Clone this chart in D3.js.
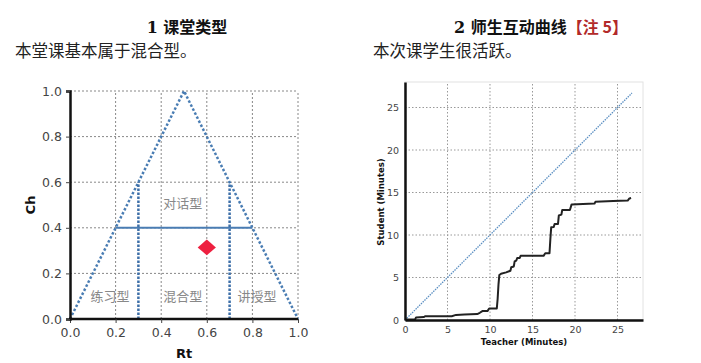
<!DOCTYPE html>
<html>
<head>
<meta charset="utf-8">
<script src="https://cdn.jsdelivr.net/npm/d3@7"></script>
<style>
  body { margin: 0; background: #fff; }
  svg { display: block; }
  .tick text { fill: #444; }
</style>
</head>
<body>
<svg id="chart" width="701" height="363"></svg>
<script>
// --- chart 1: Rt-Ch classroom type ---
var gridTicks = [0, 0.2, 0.4, 0.6, 0.8, 1.0];
var triangle = [[0, 0], [0.5, 1], [1, 0]];
var dividerH = [[0.2, 0.4], [0.8, 0.4]];
var dividerL = [[0.3, 0], [0.3, 0.6]];
var dividerR = [[0.7, 0], [0.7, 0.6]];
var regionNames = ["对话型", "练习型", "混合型", "讲授型"];
var regionRt = [0.495, 0.175, 0.495, 0.82];
var regionCh = [0.505, 0.10, 0.10, 0.10];
var lessonRt = 0.6;
var lessonCh = 0.314;

// --- chart 2: teacher-student interaction curve ---
var minuteTicks = [0, 5, 10, 15, 20, 25];
var diagonalEnd = 26.7;
var teacherMin = [0, 1.2, 1.3, 2.2, 2.4, 5.5, 6.0, 7.0, 8.5, 8.8, 9.1, 9.7, 9.9, 10.8, 10.9, 11.0, 11.1,
  11.3, 11.9, 12.4, 12.5, 12.8, 12.9, 13.1, 13.2, 13.5, 13.6, 16.3, 16.5, 17.0, 17.1, 17.2, 17.5,
  17.6, 18.0, 18.1, 18.4, 18.5, 19.4, 19.6, 22.3, 22.4, 24.5, 26.2, 26.4, 26.6];
var studentMin = [0.05, 0.1, 0.3, 0.35, 0.45, 0.45, 0.6, 0.65, 0.7, 0.85, 1.05, 1.05, 1.35, 1.35, 2.5, 4.2, 5.3,
  5.45, 5.6, 5.8, 6.2, 6.3, 6.9, 7.0, 7.3, 7.3, 7.55, 7.55, 7.85, 7.85, 9.5, 10.9, 10.95,
  11.3, 11.3, 12.3, 12.4, 12.95, 12.95, 13.6, 13.7, 13.9, 14.0, 14.05, 14.3, 14.35];

var svg = d3.select("#chart");
var cjk = "'Noto Sans CJK SC', sans-serif";
var sans = "'DejaVu Sans', sans-serif";

// headings
function heading(x, num, title, note) {
  var t = svg.append("text").attr("x", x).attr("y", 33)
    .attr("text-anchor", "middle")
    .style("font-family", cjk).style("font-size", "16px").style("font-weight", "bold").attr("fill", "#111");
  t.append("tspan").style("font-family", "'DejaVu Serif', serif").text(num + " ");
  t.append("tspan").text(title);
  if (note) t.append("tspan").attr("fill", "#b22a2a").text(note);
}
heading(187, "1", "课堂类型");
heading(541, "2", "师生互动曲线", "【注 5】");

svg.append("text").attr("x", 15).attr("y", 57)
  .style("font-family", cjk).style("font-size", "16.5px").attr("fill", "#222")
  .text("本堂课基本属于混合型。");
svg.append("text").attr("x", 373).attr("y", 57)
  .style("font-family", cjk).style("font-size", "16.5px").attr("fill", "#222")
  .text("本次课学生很活跃。");

// ---------- chart 1 ----------
var x1 = d3.scaleLinear().domain([0, 1]).range([70, 298]);
var y1 = d3.scaleLinear().domain([0, 1]).range([319, 91]);
var g1 = svg.append("g");

g1.selectAll(".vgrid").data(gridTicks.slice(1)).enter().append("line")
  .attr("x1", function(d) { return x1(d); }).attr("x2", function(d) { return x1(d); })
  .attr("y1", y1(0)).attr("y2", y1(1))
  .attr("stroke", "#888").attr("stroke-width", 1).attr("stroke-dasharray", "2,2");
g1.selectAll(".hgrid").data(gridTicks.slice(1)).enter().append("line")
  .attr("x1", x1(0)).attr("x2", x1(1))
  .attr("y1", function(d) { return y1(d); }).attr("y2", function(d) { return y1(d); })
  .attr("stroke", "#888").attr("stroke-width", 1).attr("stroke-dasharray", "2,2");

var line1 = d3.line().x(function(d) { return x1(d[0]); }).y(function(d) { return y1(d[1]); });
g1.append("path").attr("d", line1(triangle)).attr("fill", "none")
  .attr("stroke", "#4a7db3").attr("stroke-width", 2.5).attr("stroke-dasharray", "2.5,2");
g1.append("path").attr("d", line1(dividerH)).attr("fill", "none")
  .attr("stroke", "#4a7db3").attr("stroke-width", 2);
[dividerL, dividerR].forEach(function(seg) {
  g1.append("path").attr("d", line1(seg)).attr("fill", "none")
    .attr("stroke", "#3d6fa8").attr("stroke-width", 2.5).attr("stroke-dasharray", "2.5,1.5");
});

g1.selectAll(".region").data(regionNames).enter().append("text")
  .attr("x", function(d, i) { return x1(regionRt[i]); })
  .attr("y", function(d, i) { return y1(regionCh[i]); })
  .attr("dy", "0.35em").attr("text-anchor", "middle")
  .style("font-family", cjk).style("font-size", "13px").attr("fill", "#888")
  .text(function(d) { return d; });

g1.append("path")
  .attr("d", d3.symbol().type(d3.symbolDiamond2).size(160)())
  .attr("transform", "translate(" + x1(lessonRt) + "," + y1(lessonCh) + ") scale(1.15,1)")
  .attr("fill", "#ee2040");

var ax1 = g1.append("g").attr("transform", "translate(0," + y1(0) + ")")
  .call(d3.axisBottom(x1).tickValues(gridTicks).tickFormat(d3.format(".1f")).tickSize(4).tickPadding(5));
var ay1 = g1.append("g").attr("transform", "translate(" + x1(0) + ",0)")
  .call(d3.axisLeft(y1).tickValues(gridTicks).tickFormat(d3.format(".1f")).tickSize(4).tickPadding(4));
[ax1, ay1].forEach(function(a) {
  a.select(".domain").attr("stroke", "#111").attr("stroke-width", 2.5);
  a.selectAll(".tick line").attr("stroke", "#444");
  a.selectAll(".tick text").style("font-family", sans).style("font-size", "12.5px");
});
ax1.select(".domain").attr("d", "M" + (x1(0) - 1) + ",0H" + x1(1));

g1.append("text").attr("x", x1(0.5)).attr("y", 358).attr("text-anchor", "middle")
  .style("font-family", sans).style("font-size", "13px").style("font-weight", "bold").attr("fill", "#111")
  .text("Rt");
g1.append("text").attr("transform", "translate(35,205) rotate(-90)").attr("text-anchor", "middle")
  .style("font-family", sans).style("font-size", "13px").style("font-weight", "bold").attr("fill", "#111")
  .text("Ch");

// ---------- chart 2 ----------
var x2 = d3.scaleLinear().domain([0, 28]).range([405, 643]);
var y2 = d3.scaleLinear().domain([0, 28]).range([320, 82]);
var g2 = svg.append("g");

g2.append("rect").attr("x", x2(0)).attr("y", y2(28))
  .attr("width", x2(28) - x2(0)).attr("height", y2(0) - y2(28))
  .attr("fill", "none").attr("stroke", "#e2e2e2").attr("stroke-width", 1);

g2.selectAll(".vgrid").data(minuteTicks.slice(1)).enter().append("line")
  .attr("x1", function(d) { return x2(d); }).attr("x2", function(d) { return x2(d); })
  .attr("y1", y2(0)).attr("y2", y2(28))
  .attr("stroke", "#999").attr("stroke-width", 1).attr("stroke-dasharray", "1.5,2");
g2.selectAll(".hgrid").data(minuteTicks.slice(1)).enter().append("line")
  .attr("x1", x2(0)).attr("x2", x2(28))
  .attr("y1", function(d) { return y2(d); }).attr("y2", function(d) { return y2(d); })
  .attr("stroke", "#999").attr("stroke-width", 1).attr("stroke-dasharray", "1.5,2");

g2.append("line")
  .attr("x1", x2(0)).attr("y1", y2(0)).attr("x2", x2(diagonalEnd)).attr("y2", y2(diagonalEnd))
  .attr("stroke", "#5b8fc2").attr("stroke-width", 1.3).attr("stroke-dasharray", "1.5,1");

var pts = teacherMin.map(function(t, i) { return [t, studentMin[i]]; });
var line2 = d3.line().x(function(d) { return x2(d[0]); }).y(function(d) { return y2(d[1]); });
g2.append("path").attr("d", line2(pts)).attr("fill", "none")
  .attr("stroke", "#222").attr("stroke-width", 2).attr("stroke-linejoin", "round");

var ax2 = g2.append("g").attr("transform", "translate(0," + y2(0) + ")")
  .call(d3.axisBottom(x2).tickValues(minuteTicks).tickSize(0).tickPadding(6));
var ay2 = g2.append("g").attr("transform", "translate(" + x2(0) + ",0)")
  .call(d3.axisLeft(y2).tickValues(minuteTicks).tickSize(0).tickPadding(6));
[ax2, ay2].forEach(function(a) {
  a.select(".domain").attr("stroke", "#111").attr("stroke-width", 2.5);
  a.selectAll(".tick text").style("font-family", sans).style("font-size", "9.5px");
});

g2.append("text").attr("x", 524).attr("y", 345).attr("text-anchor", "middle")
  .style("font-family", sans).style("font-size", "8.5px").style("font-weight", "bold").attr("fill", "#111")
  .text("Teacher (Minutes)");
g2.append("text").attr("transform", "translate(384,202) rotate(-90)").attr("text-anchor", "middle")
  .style("font-family", sans).style("font-size", "8.5px").style("font-weight", "bold").attr("fill", "#111")
  .text("Student (Minutes)");
</script>
</body>
</html>
